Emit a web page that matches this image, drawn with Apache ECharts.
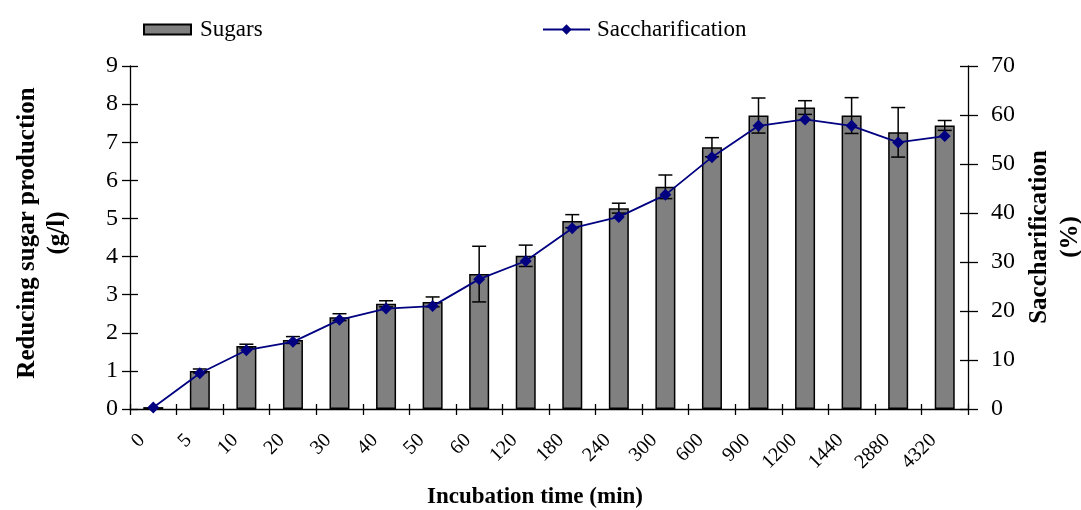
<!DOCTYPE html>
<html>
<head>
<meta charset="utf-8">
<title>Reducing sugar production and saccharification</title>
<script src="https://cdn.jsdelivr.net/npm/echarts@6/dist/echarts.min.js"></script>
<style>
  html, body { margin: 0; padding: 0; background: #ffffff; }
  #chart { width: 1081px; height: 510px; }
</style>
</head>
<body>
<div id="chart"></div>
<script>
// Incubation times (min) on the category axis
const timeLabels = ['0', '5', '10', '20', '30', '40', '50', '60', '120', '180', '240', '300', '600', '900', '1200', '1440', '2880', '4320'];

// Reducing sugar production (g/l), bars
const sugars = [0.05, 1.00, 1.65, 1.81, 2.41, 2.76, 2.81, 3.54, 4.02, 4.93, 5.27, 5.83, 6.87, 7.70, 7.91, 7.70, 7.26, 7.44];

// Standard deviation of the sugar values (g/l)
const sugarsError = [0, 0.05, 0.05, 0.09, 0.09, 0.08, 0.13, 0.73, 0.28, 0.17, 0.13, 0.31, 0.25, 0.46, 0.18, 0.47, 0.65, 0.13];

// Saccharification (%), line
const saccharification = [0.3, 7.3, 12.0, 13.7, 18.2, 20.5, 21.0, 26.5, 30.2, 36.9, 39.2, 43.7, 51.4, 57.8, 59.1, 57.8, 54.4, 55.7];

// Axis ranges
const sugarAxisRange = [0, 9, 1];
const percentAxisRange = [0, 70, 10];

const FONT = '"Liberation Serif", "Times New Roman", serif';

// Error bar rows: [category index, low, high]
const errorRows = sugars
  .map((v, i) => [i, v - sugarsError[i], v + sugarsError[i]])
  .filter((row, i) => sugarsError[i] > 0);

function renderErrorBar(params, api) {
  const idx = api.value(0);
  const lo = api.coord([idx, api.value(1)]);
  const hi = api.coord([idx, api.value(2)]);
  const half = 7;
  const style = { stroke: '#000', lineWidth: 1.5, fill: null };
  return {
    type: 'group',
    children: [
      { type: 'line', shape: { x1: hi[0], y1: hi[1], x2: lo[0], y2: lo[1] }, style },
      { type: 'line', shape: { x1: hi[0] - half, y1: hi[1], x2: hi[0] + half, y2: hi[1] }, style },
      { type: 'line', shape: { x1: lo[0] - half, y1: lo[1], x2: lo[0] + half, y2: lo[1] }, style }
    ]
  };
}

const axisBlack = { color: '#000', width: 1.3 };

const chart = echarts.init(document.getElementById('chart'), null, { renderer: 'canvas' });

chart.setOption({
  animation: false,
  backgroundColor: '#ffffff',
  textStyle: { fontFamily: FONT, color: '#000' },
  grid: { left: 130, right: 113, top: 66, bottom: 101, containLabel: false },
  legend: [
    {
      data: [{ name: 'Sugars', icon: 'rect' }],
      left: 138, top: 13,
      itemWidth: 47, itemHeight: 10,
      textStyle: { fontFamily: FONT, fontSize: 23, color: '#000', padding: [0, 0, 0, 4] }
    },
    {
      data: ['Saccharification'],
      left: 537, top: 13,
      itemWidth: 47, itemHeight: 13,
      textStyle: { fontFamily: FONT, fontSize: 23, color: '#000', padding: [0, 0, 0, 2] }
    }
  ],
  xAxis: [
    {
      type: 'category',
      data: timeLabels,
      position: 'bottom',
      boundaryGap: true,
      axisLine: { show: true, lineStyle: axisBlack },
      axisTick: { show: true, inside: false, length: 6, lineStyle: axisBlack },
      axisLabel: {
        show: true, rotate: 45, margin: 17, interval: 0,
        fontFamily: FONT, fontSize: 20, color: '#000',
        padding: [0, 16, 0, 0]
      },
      splitLine: { show: false }
    },
    {
      // inner half of the crossing tick marks
      type: 'category',
      data: timeLabels,
      position: 'bottom',
      boundaryGap: true,
      axisLine: { show: false },
      axisTick: { show: true, inside: true, length: 5, lineStyle: axisBlack },
      axisLabel: { show: false },
      splitLine: { show: false }
    }
  ],
  yAxis: [
    {
      type: 'value', position: 'left',
      min: sugarAxisRange[0], max: sugarAxisRange[1], interval: sugarAxisRange[2],
      axisLine: { show: true, lineStyle: axisBlack },
      axisTick: { show: true, inside: false, length: 8, lineStyle: axisBlack },
      axisLabel: { margin: 12, fontFamily: FONT, fontSize: 24, color: '#000' },
      splitLine: { show: false }
    },
    {
      type: 'value', position: 'right',
      min: percentAxisRange[0], max: percentAxisRange[1], interval: percentAxisRange[2],
      axisLine: { show: true, lineStyle: axisBlack },
      axisTick: { show: true, inside: false, length: 10, lineStyle: axisBlack },
      axisLabel: { margin: 23, fontFamily: FONT, fontSize: 24, color: '#000' },
      splitLine: { show: false }
    },
    {
      type: 'value', position: 'left',
      min: sugarAxisRange[0], max: sugarAxisRange[1], interval: sugarAxisRange[2],
      axisLine: { show: false },
      axisTick: { show: true, inside: true, length: 8, lineStyle: axisBlack },
      axisLabel: { show: false },
      splitLine: { show: false }
    },
    {
      type: 'value', position: 'right',
      min: percentAxisRange[0], max: percentAxisRange[1], interval: percentAxisRange[2],
      axisLine: { show: false },
      axisTick: { show: true, inside: true, length: 8, lineStyle: axisBlack },
      axisLabel: { show: false },
      splitLine: { show: false }
    }
  ],
  graphic: [
    {
      type: 'text', x: 43, y: 233, rotation: Math.PI / 2,
      style: {
        text: 'Reducing sugar production\n(g/l)',
        font: 'bold 25px ' + FONT, fill: '#000',
        textAlign: 'center', textVerticalAlign: 'middle',
        align: 'center', verticalAlign: 'middle', lineHeight: 30
      }
    },
    {
      type: 'text', x: 1055, y: 237, rotation: Math.PI / 2,
      style: {
        text: 'Saccharification\n(%)',
        font: 'bold 25px ' + FONT, fill: '#000',
        textAlign: 'center', textVerticalAlign: 'middle',
        align: 'center', verticalAlign: 'middle', lineHeight: 31
      }
    },
    {
      type: 'text', x: 535, y: 497,
      style: {
        text: 'Incubation time (min)',
        font: 'bold 23px ' + FONT, fill: '#000',
        textAlign: 'center', textVerticalAlign: 'middle',
        align: 'center', verticalAlign: 'middle'
      }
    }
  ],
  series: [
    {
      name: 'Sugars',
      type: 'bar',
      xAxisIndex: 0, yAxisIndex: 0,
      data: sugars,
      barWidth: 20,
      itemStyle: { color: '#808080', borderColor: '#000', borderWidth: 1.5 },
      z: 2
    },
    {
      name: 'Sugars error',
      type: 'custom',
      xAxisIndex: 0, yAxisIndex: 0,
      data: errorRows,
      encode: { x: 0, y: [1, 2] },
      renderItem: renderErrorBar,
      silent: true,
      z: 3
    },
    {
      name: 'Saccharification',
      type: 'line',
      xAxisIndex: 0, yAxisIndex: 1,
      data: saccharification,
      symbol: 'diamond',
      symbolSize: 12,
      lineStyle: { color: '#000080', width: 1.8 },
      itemStyle: { color: '#000080' },
      z: 4
    }
  ]
});
</script>
</body>
</html>
